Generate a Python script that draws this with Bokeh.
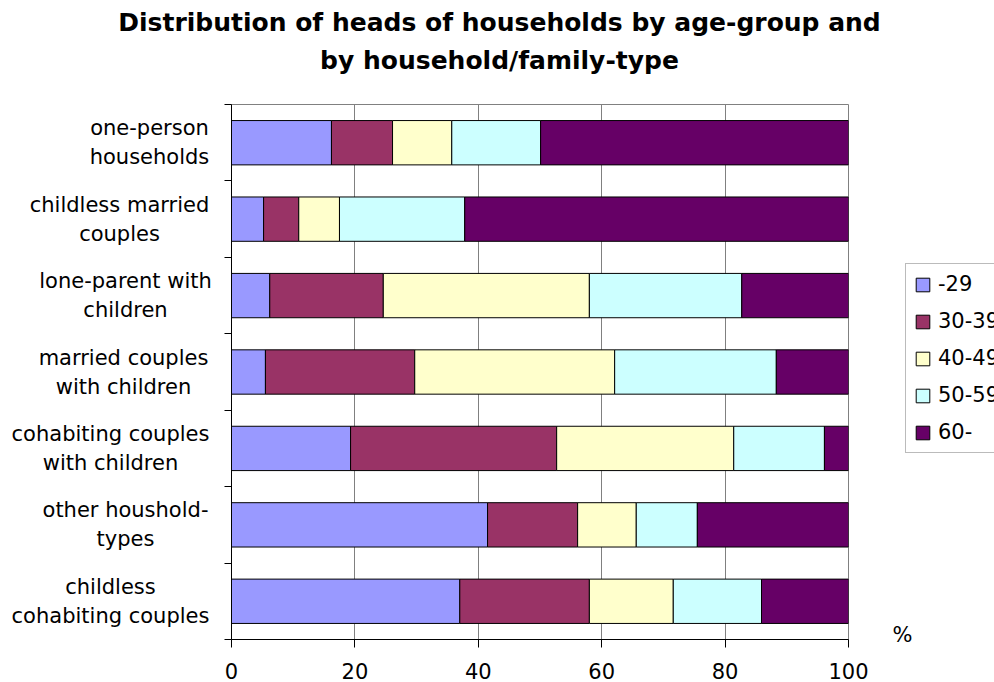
from bokeh.plotting import figure
from bokeh.models import (ColumnDataSource, Legend, LegendItem, Label, FixedTicker, Range1d)
from bokeh.layouts import column, row
from bokeh.embed import file_html
from bokeh.resources import INLINE

# ---------------- data ----------------
categories = [
    "one-person households",
    "childless married couples",
    "lone-parent with children",
    "married couples with children",
    "cohabiting couples with children",
    "other houshold-types",
    "childless cohabiting couples",
]
category_lines = [
    ["one-person", "households"],
    ["childless married", "couples"],
    ["lone-parent with", "children"],
    ["married couples", "with children"],
    ["cohabiting couples", "with children"],
    ["other houshold-", "types"],
    ["childless", "cohabiting couples"],
]
age_groups = ["-29", "30-39", "40-49", "50-59", "60-"]
v_under29 = [16.2, 5.2, 6.2, 5.5, 19.3, 41.5, 37.0]
v_30_39 = [9.9, 5.7, 18.4, 24.2, 33.4, 14.6, 21.0]
v_40_49 = [9.6, 6.6, 33.4, 32.4, 28.7, 9.5, 13.6]
v_50_59 = [14.4, 20.3, 24.7, 26.2, 14.7, 9.9, 14.3]
v_60 = [49.9, 62.2, 17.3, 11.7, 3.9, 24.5, 14.1]
x_ticks = [0, 20, 40, 60, 80, 100]
title_lines = ["Distribution of heads of households by age-group and",
               "by household/family-type"]
unit_label = "%"

# ---------------- styles / layout (page pixels) ----------------
colors = ["#9999FF", "#993366", "#FFFFCC", "#CCFFFF", "#660066"]
FONT = "DejaVu Sans"
PW, PH = 994, 682
FL, FR, FT, FB = 231, 848, 104, 639      # plot frame
TOP_H = 85                               # title strip height
LEFT_W = 216                             # category label strip width
MAIN_R = 872                             # right edge of main figure
label_centers_px = [149, 119, 125, 123, 110, 125, 110]
line_off_px = 14.5

n = len(categories)
row_h = (FB - FT) / n
ROW_H = PH - TOP_H


def blank(w, h, xr, yr):
    f = figure(width=w, height=h, output_backend="svg", toolbar_location=None,
               x_range=xr, y_range=yr, x_axis_type=None, y_axis_type=None,
               min_border=0, min_border_left=0, min_border_right=0,
               min_border_top=0, min_border_bottom=0, frame_align=False)
    f.outline_line_color = None
    f.grid.visible = False
    f.background_fill_color = "white"
    f.border_fill_color = "white"
    return f


# ---------------- title strip ----------------
top = blank(PW, TOP_H, Range1d(0, PW), Range1d(TOP_H, 0))
for t, py in zip(title_lines, [22, 60]):
    top.add_layout(Label(x=499, y=py, text=t, text_align="center",
                         text_baseline="middle", text_font=FONT, text_font_size="25px",
                         text_font_style="bold", text_color="black"))

# ---------------- category label strip ----------------
left = blank(LEFT_W, ROW_H, Range1d(0, LEFT_W), Range1d(PH, TOP_H))
for i, lines in enumerate(category_lines):
    yc = FT + (i + 0.5) * row_h
    for j, t in enumerate(lines):
        left.add_layout(Label(x=label_centers_px[i], y=yc - line_off_px + 2 * line_off_px * j,
                              text=t, text_align="center", text_baseline="middle",
                              text_font=FONT, text_font_size="21px", text_color="black"))

# ---------------- main chart ----------------
keys = ["a", "b", "c", "d", "e"]
src = ColumnDataSource(dict(
    y=[n - 1 - i + 0.5 for i in range(n)],
    a=v_under29, b=v_30_39, c=v_40_49, d=v_50_59, e=v_60,
))

p = figure(width=MAIN_R - LEFT_W, height=ROW_H, output_backend="svg", toolbar_location=None,
           x_range=Range1d(0, 100), y_range=Range1d(0, n), frame_align=False,
           min_border_left=FL - LEFT_W, min_border_right=MAIN_R - FR,
           min_border_top=FT - TOP_H, min_border_bottom=PH - FB)
p.hbar_stack(keys, y="y", height=0.58, color=colors,
             line_color="black", line_width=1, source=src)

p.background_fill_color = "white"
p.border_fill_color = "white"
p.outline_line_color = "#808080"
p.xgrid.grid_line_color = "#808080"
p.xgrid.ticker = FixedTicker(ticks=x_ticks)
p.ygrid.grid_line_color = None

xa = p.xaxis[0]
xa.ticker = FixedTicker(ticks=x_ticks)
xa.axis_line_color = "black"
xa.major_tick_line_color = "black"
xa.major_tick_out = 8
xa.major_tick_in = 0
xa.minor_tick_line_color = None
xa.major_label_text_font = FONT
xa.major_label_text_font_size = "21px"
xa.major_label_text_color = "black"
xa.major_label_standoff = 15

ya = p.yaxis[0]
ya.ticker = FixedTicker(ticks=list(range(n + 1)))
ya.axis_line_color = "black"
ya.major_tick_line_color = "black"
ya.major_tick_out = 7
ya.major_tick_in = 0
ya.minor_tick_line_color = None
ya.major_label_text_font_size = "0px"
ya.major_label_standoff = 0

# ---------------- legend / unit strip ----------------
right = blank(PW - MAIN_R, ROW_H, Range1d(MAIN_R, PW), Range1d(PH, TOP_H))
# swatch renderers lying below the visible strip, used only for the legend's colour keys
swatches = [right.hbar(y=[PH + 60], right=[MAIN_R + 60], left=[MAIN_R + 40], height=5,
                       fill_color=c, line_color="black")
            for c in colors]
legend = Legend(items=[LegendItem(label=g, renderers=[r]) for g, r in zip(age_groups, swatches)],
                location=(905 - MAIN_R, PH - 453))
legend.label_text_font = FONT
legend.label_text_font_size = "21px"
legend.label_text_color = "black"
legend.glyph_width = 17
legend.glyph_height = 17
legend.label_standoff = 7
legend.spacing = 13
legend.padding = 8
legend.margin = 0
legend.border_line_color = "#777777"
legend.border_line_width = 1
legend.background_fill_color = "white"
legend.background_fill_alpha = 1
right.add_layout(legend, "center")
right.add_layout(Label(x=902, y=634, text=unit_label, text_align="center",
                       text_baseline="middle", text_font=FONT, text_font_size="21px",
                       text_color="black"))

layout = column(top, row(left, p, right, spacing=0), spacing=0)
open("out.html", "w").write(file_html(layout, INLINE))
